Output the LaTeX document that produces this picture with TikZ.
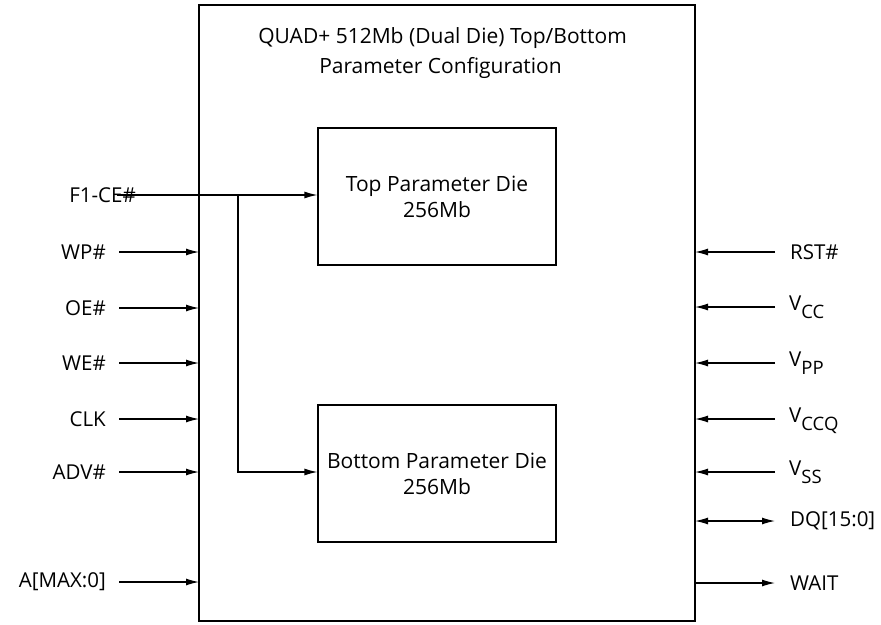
\documentclass[tikz,border=0pt]{standalone}
\usepackage{fontspec}
\setmainfont{Open Sans}
\usetikzlibrary{arrows.meta}
\newcommand{\sub}[1]{\raisebox{-8pt}{\fontsize{18.5}{18.5}\selectfont #1}}
\begin{document}
\begin{tikzpicture}[x=1pt,y=-1pt,
  every node/.style={font=\fontsize{20.5}{26}\selectfont, inner sep=0pt},
  arr/.style={line width=1.2pt,-{Latex[length=13pt,width=7pt]}},
  darr/.style={line width=1.2pt,{Latex[length=13pt,width=7pt]}-{Latex[length=13pt,width=7pt]}},
  boxst/.style={draw,line width=1.2pt},
  lbl/.style={anchor=east},
  rlbl/.style={anchor=west},
  vlbl/.style={anchor=base west},
  ttl/.style={anchor=base,font=\fontsize{21}{26}\selectfont}]
\useasboundingbox (0,0) rectangle (881,624);
% main box
\draw[boxst] (199,5) rectangle (695,621);
\node[ttl] (t1) at (442.5,43) {QUAD+ 512Mb (Dual Die) Top/Bottom};
\node[ttl] (t2) at (440.5,73) {Parameter Configuration};
% dies
\node[boxst, minimum width=238pt, minimum height=137pt, align=center, font=\fontsize{21}{26}\selectfont] (top) at (437,196.5) {Top Parameter Die\\256Mb};
\node[boxst, minimum width=238pt, minimum height=137pt, align=center, font=\fontsize{21}{26}\selectfont] (bot) at (437,473.5) {Bottom Parameter Die\\256Mb};
% F1-CE#
\node[lbl] (ce) at (136,195) {F1-CE\#};
\coordinate (ces) at (117,195);
\coordinate (br) at (238,195);
\draw[arr] (ces) -- (top.west |- ces);
\draw[arr] (br) |- (bot.west |- 0,472);
% left pins
\foreach \n/\t/\y in {wp/WP\#/252, oe/OE\#/308, we/WE\#/363, clk/CLK/419, adv/ADV\#/472, a/{A[MAX:0]}/582}{
  \node[lbl] (\n) at (106,\y) {\t};
  \coordinate (\n s) at (119,\y);
  \coordinate (\n e) at (199,\y);
  \draw[arr] (\n s) -- (\n e);
}
% right pins
\node[rlbl] (rst) at (790,252) {RST\#};
\coordinate (rsts) at (775,252);
\coordinate (rste) at (695,252);
\draw[arr] (rsts) -- (rste);
\foreach \n/\t/\y in {vcc/CC/307, vpp/PP/363, vccq/CCQ/419, vss/SS/472}{
  \node[vlbl] (\n) at (789,\y+3) {V\sub{\t}};
  \coordinate (\n s) at (775,\y);
  \coordinate (\n e) at (695,\y);
  \draw[arr] (\n s) -- (\n e);
}
\node[rlbl] (dq) at (790,521) {DQ[15:0]};
\coordinate (dqs) at (695,521);
\coordinate (dqe) at (775,521);
\draw[darr] (dqs) -- (dqe);
\node[rlbl] (wait) at (790,583) {WAIT};
\coordinate (ws) at (695,583);
\coordinate (we2) at (775,583);
\draw[arr] (ws) -- (we2);
\end{tikzpicture}
\end{document}
